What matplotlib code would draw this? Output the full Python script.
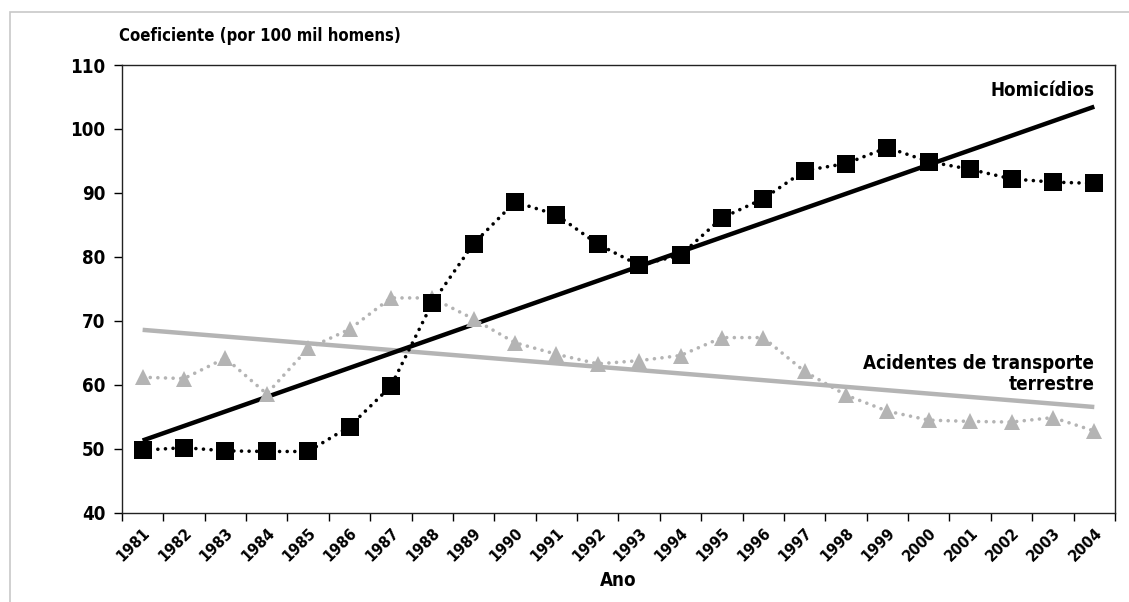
import matplotlib as mpl
mpl.use('Agg')
import matplotlib.pyplot as plt
import numpy as np
from matplotlib.patches import Rectangle

years = list(range(1981, 2005))
homicidios = [49.8, 50.2, 49.7, 49.6, 49.6, 53.5, 59.8, 72.8, 82.1, 88.6, 86.6, 82.0,
              78.7, 80.3, 86.1, 89.1, 93.5, 94.6, 97.1, 94.9, 93.7, 92.2, 91.7, 91.5]
acidentes = [61.2, 61.0, 64.2, 58.6, 65.7, 68.7, 73.6, 73.6, 70.3, 66.6, 64.8, 63.3,
             63.8, 64.6, 67.4, 67.4, 62.1, 58.4, 55.9, 54.5, 54.3, 54.2, 54.9, 52.8]
yticks = [40, 50, 60, 70, 80, 90, 100, 110]

plt.rcParams['font.family'] = ['DejaVu Sans']
plt.rcParams['font.stretch'] = 'condensed'
plt.rcParams['font.weight'] = 'bold'

fig = plt.figure(figsize=(11.29, 6.02), dpi=100)
ax = fig.add_axes([0.108, 0.148, 0.8796, 0.744])
fig.patches.append(Rectangle((10 / 1129, -0.1), 1.2, 1.1 - 12 / 602, transform=fig.transFigure,
                             fill=False, edgecolor='#c8c8c8', lw=1.2))

x = np.arange(len(years))
gray = '#b4b4b4'

# trend lines
p_h = np.polyfit(x, homicidios, 1)
p_a = np.polyfit(x, acidentes, 1)
ax.plot(x, np.polyval(p_a, x), color=gray, lw=3.2, solid_capstyle='butt', zorder=2)
ax.plot(x, np.polyval(p_h, x), color='black', lw=3.2, solid_capstyle='butt', zorder=3)

# series
ax.plot(x, acidentes, color=gray, lw=2.6, ls=(0, (0.01, 2.1)), dash_capstyle='round',
        marker='^', markersize=11, markeredgewidth=0, zorder=4)
ax.plot(x, homicidios, color='black', lw=2.6, ls=(0, (0.01, 2.1)), dash_capstyle='round',
        marker='s', markersize=12.5, markeredgewidth=0, zorder=5)

ax.text(x[-1], 104.5, 'Homicídios', ha='right', va='bottom', fontsize=13.5, fontweight='bold')
ax.text(x[-1], 58.6, 'Acidentes de transporte\nterrestre', ha='right', va='bottom',
        fontsize=13.5, fontweight='bold', linespacing=1.1)

ax.set_xlim(-0.5, len(years) - 0.5)
ax.set_ylim(40, 110)
ax.set_yticks(yticks)
ax.set_yticklabels([str(v) for v in yticks], fontsize=13.5, fontweight='bold')
ax.set_xticks(x)
ax.set_xticklabels([str(y) for y in years], rotation=45, ha='right', rotation_mode='anchor',
                   fontsize=11.5, fontweight='bold')
ax.set_xticks(np.arange(-0.5, len(years)), minor=True)
ax.tick_params(axis='x', which='major', length=0, pad=9)
ax.tick_params(axis='x', which='minor', length=6, width=1, direction='out')
ax.tick_params(axis='y', length=6, width=1, direction='out', pad=6)
for s in ax.spines.values():
    s.set_linewidth(1.0)
    s.set_color('#222222')

ax.set_xlabel('Ano', fontsize=13.5, fontweight='bold', labelpad=5)
fig.text(0.105, 0.925, 'Coeficiente (por 100 mil homens)', fontsize=12, fontweight='bold',
         ha='left', va='bottom')

fig.savefig('out.png', dpi=100)
